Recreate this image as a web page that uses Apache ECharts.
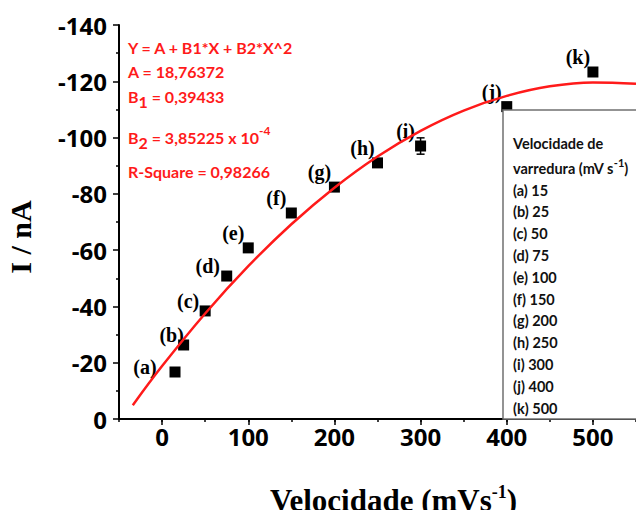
<!DOCTYPE html>
<html><head><meta charset="utf-8">
<script src="https://cdn.jsdelivr.net/npm/echarts@6/dist/echarts.min.js"></script>
<style>html,body{margin:0;padding:0;background:#fff}#c{width:636px;height:510px}</style>
</head><body><div id="c"></div>
<script>
// ---- data ----
const letters = ['a','b','c','d','e','f','g','h','i','j','k'];
const speeds = [15, 25, 50, 75, 100, 150, 200, 250, 300, 400, 500];
const currents = [-16.7, -26.3, -38.4, -50.8, -60.8, -73.2, -82.4, -91.0, -97.0, -111.0, -123.3];
const errors = [0.5, 0.5, 0.5, 0.5, 0.5, 0.5, 0.5, 0.7, 2.9, 0.5, 0.5];
const fitX = [-34, 0, 50, 100, 150, 200, 250, 300, 350, 400, 450, 500, 550];
const fitY = [-4.9, -18.8, -37.5, -54.3, -69.2, -82.2, -93.3, -102.4, -109.6, -114.8, -118.2, -119.6, -119.1];
const xMajorTicks = [0, 100, 200, 300, 400, 500];
const xRange = [-50, 550];
const yRange = [-140, 0];
const fitLines = ['Y = A + B1*X + B2*X^2', 'A = 18,76372', '0,39433', '3,85225 x 10', '-4', 'R-Square = 0,98266'];
const legendTitle = ['Velocidade de', 'varredura (mV s', '-1', ')'];

// ---- layout / style (not data) ----
const labelOffsetDefault = [-15, -15];
const labelOffsetOverride = { a: [-30, -5], b: [-12, -10], c: [-17, -10], d: [-19, -10] };
const serif = 'Liberation Serif';
const sans = 'Open Sans';
const red = '#ff1a1a';

const chart = echarts.init(document.getElementById('c'), null, { renderer: 'svg' });

const AF = 16;
const annRich = {
  m: { fontFamily: 'Lato', fontWeight: 'bold', fontSize: AF, fill: red },
  sub: { fontFamily: 'Lato', fontWeight: 'bold', fontSize: AF, fill: red, padding: [11, 0, 0, 0] },
  sup: { fontFamily: 'Lato', fontWeight: 'bold', fontSize: 12, fill: red, padding: [0, 0, 14, 0] }
};
const LF = 14.5;
const legRich = {
  m: { fontFamily: 'Lato', fontWeight: 'bold', fontSize: LF, fill: '#111' },
  sup: { fontFamily: 'Lato', fontWeight: 'bold', fontSize: 11, fill: '#111', padding: [0, 0, 12, 0] }
};

const graphics = [];
function annText(y, text) {
  graphics.push({ type: 'text', x: 128, y: y, z: 50, style: { text: text, rich: annRich, verticalAlign: 'middle', align: 'left' } });
}
annText(47, '{m|' + fitLines[0] + '}');
annText(71, '{m|' + fitLines[1] + '}');
annText(96, '{m|B}{sub|1}{m| = ' + fitLines[2] + '}');
annText(137, '{m|B}{sub|2}{m| = ' + fitLines[3] + '}{sup|' + fitLines[4] + '}');
annText(171, '{m|' + fitLines[5] + '}');

// legend box
graphics.push({ type: 'rect', z: 40, shape: { x: 503, y: 110, width: 140, height: 309 }, style: { fill: '#fff', stroke: '#707070', lineWidth: 1.5 } });
function legText(y, text) {
  graphics.push({ type: 'text', x: 513, y: y, z: 41, style: { text: text, rich: legRich, verticalAlign: 'middle', align: 'left' } });
}
legText(143, '{m|' + legendTitle[0] + '}');
legText(168, '{m|' + legendTitle[1] + '}{sup|' + legendTitle[2] + '}{m|' + legendTitle[3] + '}');
letters.forEach((l, i) => legText(190 + i * 21.8, '{m|(' + l + ') ' + speeds[i] + '}'));

const axisLabelStyle = { fontFamily: sans, fontWeight: 'bold', fontSize: 24, color: '#000' };

const option = {
  animation: false,
  backgroundColor: '#fff',
  grid: { left: 119, top: 25, right: 0, bottom: 91, outerBoundsMode: 'none' },
  xAxis: [
    {
      type: 'value', min: xRange[0], max: xRange[1], interval: 50, position: 'bottom',
      axisLine: { show: true, onZero: false, lineStyle: { color: '#000', width: 2 } },
      axisTick: { show: true, length: 3, lineStyle: { color: '#000', width: 1.5 } },
      splitLine: { show: false },
      axisLabel: Object.assign({ margin: 5, formatter: v => (v % 100 === 0 && v >= 0 && v <= 500) ? String(v) : '' }, axisLabelStyle),
      name: '{t|Velocidade (mVs}{s|-1}{t|)}', nameLocation: 'middle', nameGap: 64,
      nameTextStyle: {
        padding: [0, 0, 0, 32],
        rich: {
          t: { fontFamily: serif, fontWeight: 'bold', fontSize: 31, color: '#000' },
          s: { fontFamily: serif, fontWeight: 'bold', fontSize: 18, color: '#000', padding: [0, 0, 16, 0] }
        }
      }
    },
    {
      type: 'value', min: xRange[0], max: xRange[1], interval: 50, position: 'bottom', offset: 0,
      axisLine: { show: false, onZero: false },
      axisTick: { show: true, customValues: xMajorTicks, length: 6, lineStyle: { color: '#000', width: 1.5 } },
      axisLabel: { show: false }, splitLine: { show: false }
    }
  ],
  yAxis: {
    type: 'value', min: yRange[0], max: yRange[1], interval: 20, inverse: true,
    axisLine: { show: true, onZero: false, lineStyle: { color: '#000', width: 2 } },
    axisTick: { show: true, length: 6, lineStyle: { color: '#000', width: 1.5 } },
    minorTick: { show: true, splitNumber: 2, length: 3, lineStyle: { color: '#000', width: 1.5 } },
    splitLine: { show: false },
    axisLabel: Object.assign({ margin: 12 }, axisLabelStyle),
    name: 'I / nA', nameLocation: 'middle', nameGap: 84,
    nameTextStyle: { fontFamily: serif, fontWeight: 'bold', fontSize: 30, color: '#000', padding: [0, 30, 0, 0] }
  },
  graphic: graphics,
  series: [
    {
      type: 'line', name: 'fit', smooth: 0.4, symbol: 'none',
      data: fitX.map((x, i) => [x, fitY[i]]),
      lineStyle: { color: red, width: 2.5 }
    },
    {
      type: 'custom', name: 'err',
      data: speeds.map((s, i) => [s, currents[i] - errors[i], currents[i] + errors[i]]),
      renderItem: (params, api) => {
        const lo = api.coord([api.value(0), api.value(1)]);
        const hi = api.coord([api.value(0), api.value(2)]);
        const w = 4;
        const st = { stroke: '#000', lineWidth: 1.5 };
        return { type: 'group', children: [
          { type: 'line', shape: { x1: lo[0], y1: lo[1], x2: hi[0], y2: hi[1] }, style: st },
          { type: 'line', shape: { x1: lo[0] - w, y1: lo[1], x2: lo[0] + w, y2: lo[1] }, style: st },
          { type: 'line', shape: { x1: hi[0] - w, y1: hi[1], x2: hi[0] + w, y2: hi[1] }, style: st }
        ] };
      }
    },
    {
      type: 'scatter', name: 'pts', symbol: 'rect', symbolSize: 11,
      itemStyle: { color: '#000', opacity: 1 },
      data: speeds.map((s, i) => ({
        value: [s, currents[i]],
        label: { offset: labelOffsetOverride[letters[i]] || labelOffsetDefault }
      })),
      label: {
        show: true, position: 'inside',
        formatter: p => '(' + letters[p.dataIndex] + ')',
        fontFamily: serif, fontWeight: 'bold', fontSize: 20, color: '#000'
      }
    }
  ]
};
chart.setOption(option);
</script></body></html>
